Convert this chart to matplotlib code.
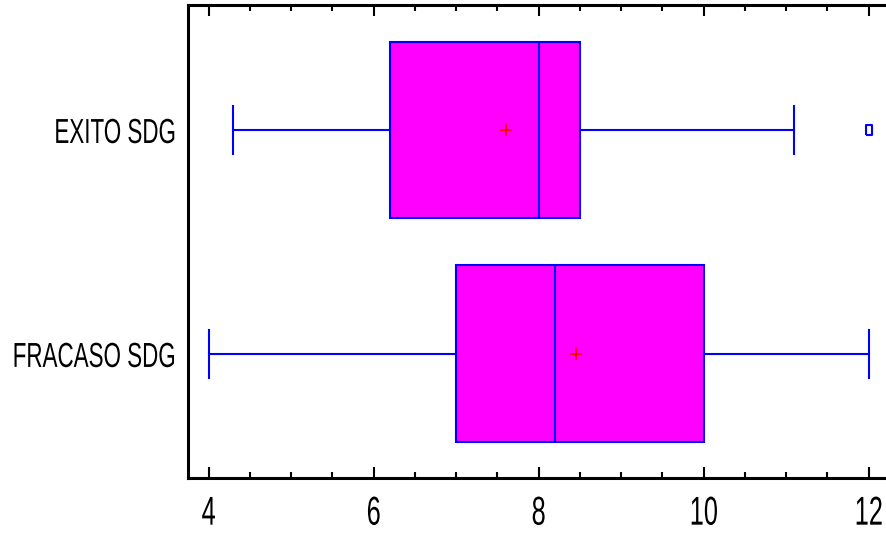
import matplotlib
matplotlib.use("Agg")
import matplotlib.pyplot as plt
from matplotlib.ticker import MultipleLocator
from matplotlib.transforms import Affine2D, Bbox
import matplotlib.patheffects as pe

# ==== data ====
groups = ["FRACASO SDG", "EXITO SDG"]
q1 = [7.0, 6.2]
medians = [8.2, 8.0]
q3 = [10.0, 8.5]
whis_lo = [4.0, 4.3]
whis_hi = [12.0, 11.1]
means = [8.45, 7.6]
outliers = [[], [12.0]]
# ===================================


# squeeze text horizontally (the original uses a very narrow font)
class Squeeze(pe.AbstractPathEffect):
    def __init__(self, sx, anchor='center'):
        super().__init__()
        self.sx = sx
        self.anchor = anchor

    def draw_path(self, renderer, gc, tpath, affine, rgbFace=None):
        ext = tpath.get_extents()
        if self.anchor == 'right':
            ref = ext.x1
        else:
            ref = (ext.x0 + ext.x1) / 2
        sq = Affine2D().translate(-ref, 0).scale(self.sx, 1).translate(ref, 0)
        renderer.draw_path(gc, tpath, sq + affine, rgbFace)


def squeeze_label(lab, sx, anchor):
    lab.set_path_effects([Squeeze(sx, anchor)])
    orig = lab.get_window_extent

    # keep the reported extent in line with what is drawn
    def extent(renderer=None, dpi=None):
        bb = orig(renderer, dpi)
        w = bb.width * sx
        if anchor == 'right':
            x0, x1 = bb.x1 - w, bb.x1
        else:
            c = (bb.x0 + bb.x1) / 2
            x0, x1 = c - w / 2, c + w / 2
        return Bbox([[x0, bb.y0], [x1, bb.y1]])
    lab.get_window_extent = extent


stats = []
for i, g in enumerate(groups):
    stats.append(dict(label=g, q1=q1[i], med=medians[i], q3=q3[i],
                      whislo=whis_lo[i], whishi=whis_hi[i],
                      mean=means[i], fliers=outliers[i]))

plt.rcParams['font.family'] = ['Liberation Sans', 'DejaVu Sans']

fig = plt.figure(figsize=(8.86, 5.33), dpi=100)
ax = fig.add_axes([188 / 886, 1 - 478 / 533, 698 / 886, 473 / 533])

blue = '#0000FF'
tall_box = [(-0.6, -1), (0.6, -1), (0.6, 1), (-0.6, 1), (-0.6, -1)]
ax.bxp(stats, positions=[1, 2], orientation='horizontal', widths=0.79,
       showmeans=True, patch_artist=True, showcaps=True,
       boxprops=dict(facecolor='#FF00FF', edgecolor=blue, linewidth=1.5),
       medianprops=dict(color=blue, linewidth=1.5),
       whiskerprops=dict(color=blue, linewidth=1.5),
       capprops=dict(color=blue, linewidth=1.5),
       capwidths=0.214,
       meanprops=dict(marker='+', markeredgecolor='red', markersize=9, markeredgewidth=1.3),
       flierprops=dict(marker=tall_box, markerfacecolor='white', markeredgecolor=blue,
                       markersize=7, markeredgewidth=1.5))

ax.set_xlim(3.75, 12.21)
ax.set_ylim(0.446, 2.558)
ax.xaxis.set_major_locator(MultipleLocator(2))
ax.xaxis.set_minor_locator(MultipleLocator(0.5))
ax.tick_params(axis='x', which='both', direction='in', top=True, bottom=True,
               labelsize=29, pad=12, width=1.5)
ax.tick_params(axis='x', which='major', length=8)
ax.tick_params(axis='x', which='minor', length=4.5)
ax.tick_params(axis='y', length=0, labelsize=25, pad=8)
ax.set_yticks([1, 2])
ax.set_yticklabels(groups)

for s in ['left', 'top', 'bottom']:
    ax.spines[s].set_linewidth(2.2)
ax.spines['right'].set_visible(False)

fig.canvas.draw()
for lab in ax.get_xticklabels():
    squeeze_label(lab, 0.63, 'center')
for lab in ax.get_yticklabels():
    squeeze_label(lab, 0.645, 'right')

fig.savefig("out.png", dpi=100)
